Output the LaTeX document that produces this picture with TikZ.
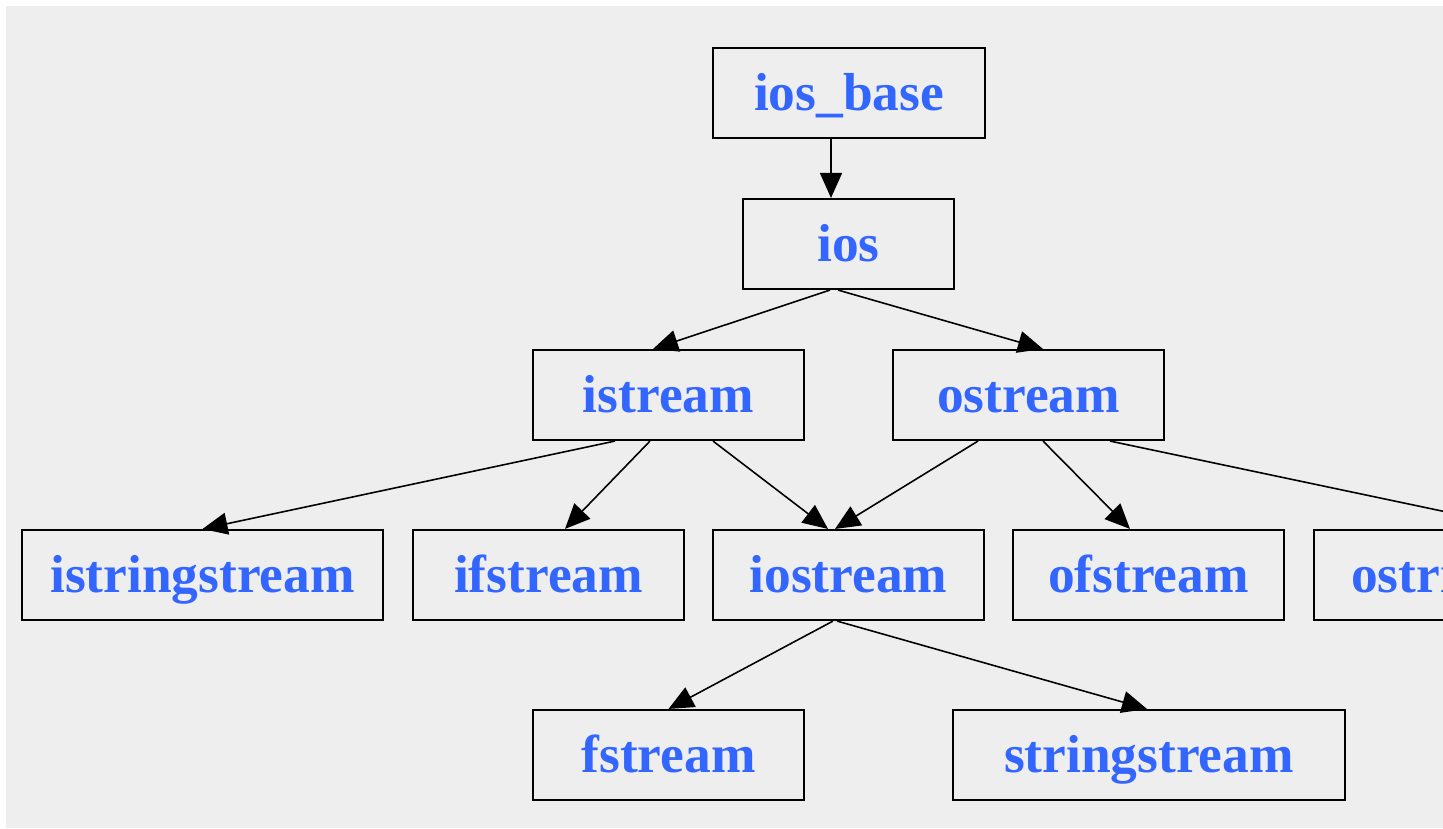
\documentclass[tikz,border=0pt]{standalone}
\usepackage{fontspec}
\setmainfont{Liberation Serif}
\usepackage{tikz}
\usetikzlibrary{positioning, arrows.meta}
\definecolor{pagegray}{HTML}{EEEEEE}
\definecolor{classblue}{HTML}{3366FF}
\tikzset{
  cls/.style={draw=black, line width=0.6pt, rectangle, minimum width=2.71cm, minimum height=0.9cm, inner sep=0pt, text height=0.34cm, text depth=0pt, text=classblue, font=\fontsize{15.2}{18}\selectfont\bfseries},
  wide/.style={cls, minimum width=3.61cm},
  inh/.style={line width=0.45pt, -{Triangle[length=0.25cm, width=0.22cm]}}
}

\begin{document}
\begin{tikzpicture}
  \useasboundingbox (0,0) rectangle (14.43,-8.28);
  \clip (0,0) rectangle (14.43,-8.28);
  \fill[pagegray] (0.06,-0.06) rectangle (14.43,-8.28);

  % base classes
  \node[cls, minimum width=2.72cm] (iosbase) at (8.49,-0.93) {ios\_base};
  \node[cls, minimum width=2.11cm] (ios) at (8.485,-2.44) {ios};
  \node[cls] (istream) at (6.685,-3.95) {istream};
  \node[cls] (ostream) at (10.285,-3.95) {ostream};

  % derived classes
  \node[wide] (istringstream) at (2.025,-5.75) {istringstream};
  \node[cls] (ifstream) at (5.485,-5.75) {ifstream};
  \node[cls] (iostream) at (8.485,-5.75) {iostream};
  \node[cls] (ofstream) at (11.485,-5.75) {ofstream};
  \node[wide, minimum width=3.91cm] (ostringstream) at (15.095,-5.75) {ostringstream};
  \node[cls] (fstream) at (6.685,-7.55) {fstream};
  \node[cls, minimum width=3.92cm] (stringstream) at (11.49,-7.55) {stringstream};

  % inheritance edges
  \draw[inh] ([xshift=-1.8mm]iosbase.south) -- ([xshift=-1.75mm]ios.north);
  \draw[inh] ([xshift=-1.85mm]ios.south) -- ([xshift=-1.55mm]istream.north);
  \draw[inh] ([xshift=-1.05mm]ios.south) -- ([xshift=1.45mm]ostream.north);
  \draw[inh] ([xshift=-5.35mm]istream.south) -- (istringstream.north);
  \draw[inh] ([xshift=-1.85mm]istream.south) -- ([xshift=1.65mm]ifstream.north);
  \draw[inh] ([xshift=4.45mm]istream.south) -- ([xshift=-2.05mm]iostream.north);
  \draw[inh] ([xshift=-5.05mm]ostream.south) -- ([xshift=-1.35mm]iostream.north);
  \draw[inh] ([xshift=1.45mm]ostream.south) -- ([xshift=-1.85mm]ofstream.north);
  \draw[inh] ([xshift=8.15mm]ostream.south) -- ([xshift=1.75mm]ostringstream.north);
  \draw[inh] ([xshift=-1.55mm]iostream.south) -- (fstream.north);
  \draw[inh] ([xshift=-1.15mm]iostream.south) -- ([xshift=-0.2mm]stringstream.north);
\end{tikzpicture}
\end{document}
